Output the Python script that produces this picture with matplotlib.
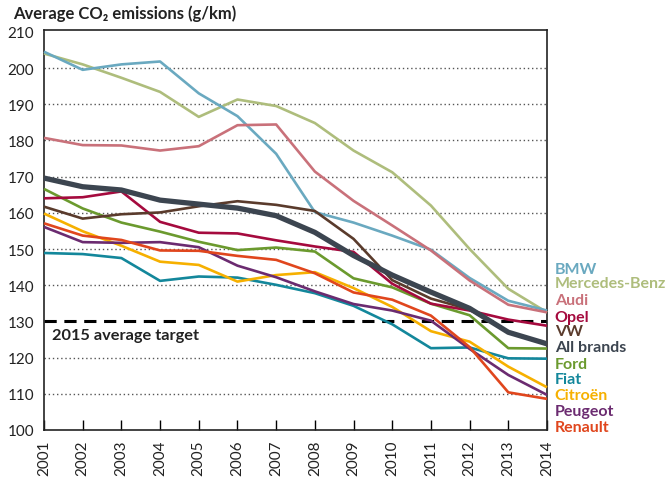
import numpy as np
import matplotlib.pyplot as plt

plt.rcParams['font.family'] = ['Lato', 'DejaVu Sans']

years = np.arange(2001, 2015)

bmw = [204.5, 199.5, 201, 201.8, 193, 186.7, 176.3, 160.2, 157.3, 153.7, 149.8, 142, 135.7, 133]
mercedes = [204, 201, 197.3, 193.4, 186.5, 191.3, 189.5, 184.8, 177.2, 171.2, 162, 150, 139, 132.5]
audi = [180.7, 178.7, 178.6, 177.2, 178.4, 184.2, 184.4, 171.4, 163.3, 156.5, 149.6, 141.3, 134.6, 132.5]
opel = [164, 164.3, 165.9, 157.5, 154.5, 154.3, 152.4, 150.7, 149.2, 140.4, 134.9, 133, 130.5, 128.8]
vw = [161.7, 158.4, 159.6, 160.1, 161.8, 163.2, 162.2, 160.5, 152.8, 141.4, 136.3, 133.3, 127, 123.7]
all_brands = [169.6, 167.2, 166.3, 163.5, 162.4, 161.3, 159.2, 154.6, 148.2, 142.8, 138.1, 133.6, 127, 123.8]
ford = [166.6, 161.2, 157.3, 154.8, 152, 149.7, 150.4, 149.3, 141.9, 139.4, 134.9, 131.7, 122.6, 122.5]
fiat = [148.9, 148.6, 147.5, 141.2, 142.4, 142.1, 140.1, 137.8, 134.3, 129.2, 122.6, 122.8, 119.8, 119.7]
citroen = [159.8, 154.9, 150.9, 146.5, 145.6, 141, 142.8, 143.6, 139.2, 134, 127.3, 124.4, 117.5, 111.8]
peugeot = [156.1, 151.9, 151.7, 151.9, 150.5, 145.4, 142.2, 138.3, 134.8, 133, 130.2, 122.4, 115.2, 109.7]
renault = [157.1, 153.7, 152.5, 149.6, 149.5, 148.1, 147, 143.3, 138, 136, 131.6, 122.9, 110.4, 108.6]

names = ['BMW', 'Mercedes-Benz', 'Audi', 'Opel', 'VW', 'All brands',
         'Ford', 'Fiat', 'Citroën', 'Peugeot', 'Renault']
series = [bmw, mercedes, audi, opel, vw, all_brands, ford, fiat, citroen, peugeot, renault]
colors = ['#6aa9c0', '#aebd7c', '#c9717a', '#a50a3e', '#5a3b2c', '#3c4550',
          '#6b9a2e', '#13879b', '#f6b000', '#6b2b70', '#e0461d']

target = 130

fig = plt.figure(figsize=(6.71, 4.81), dpi=100)
ax = fig.add_axes([44 / 671, 1 - 431 / 481, (547 - 44) / 671, (431 - 31) / 481])

# dotted grid
for v in range(110, 210, 10):
    if v != target:
        ax.axhline(v, color='#555555', lw=1.0, ls=(0, (1, 2)), zorder=1)
ax.axhline(target, color='black', lw=2.2, ls=(0, (4, 2.5)), zorder=2)
ax.text(2001.2, 126.3, '2015 average target', fontsize=11.8, fontweight='bold',
        va='center', ha='left', color='#222222')

# thin lines first, the thick average on top
order = [1, 0, 2, 6, 7, 8, 9, 10, 3, 4, 5]
for i in order:
    lw = 3.8 if names[i] == 'All brands' else 1.9
    ax.plot(years, series[i], color=colors[i], lw=lw, zorder=3 + (i == 5),
            solid_joinstyle='round', solid_capstyle='butt', clip_on=False)

label_y = [144.5, 140.5, 135.9, 131.3, 127.3, 122.9, 118.3, 114.1, 109.7, 105.3, 100.8]
for name, c, ly in zip(names, colors, label_y):
    ax.text(2014.2, ly, name, color=c, fontsize=11.5, fontweight='bold',
            va='center', ha='left', clip_on=False)

ax.set_xlim(2001, 2014)
ax.set_ylim(100, 210.5)
ax.set_yticks(range(100, 211, 10))
ax.set_xticks(years)
ax.set_xticklabels([str(y) for y in years], rotation=90, fontsize=11, color='#222222')
ax.tick_params(axis='y', length=0, pad=7, labelsize=11, labelcolor='#222222')
ax.tick_params(axis='x', direction='in', length=7, width=1, pad=7)
for s in ax.spines.values():
    s.set_linewidth(1.2)
    s.set_color('#222222')

fig.text(13 / 671, 1 - 14 / 481, 'Average CO₂ emissions (g/km)', fontsize=12,
         fontweight='bold', va='center', ha='left', color='#222222')

fig.savefig('out.png', dpi=100)
